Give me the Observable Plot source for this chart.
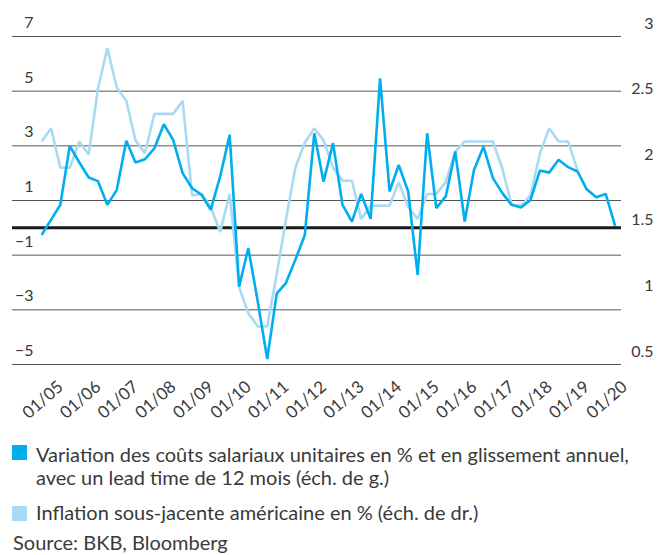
<!DOCTYPE html>
<html>
<head>
<meta charset="utf-8">
<script src="https://cdn.jsdelivr.net/npm/d3@7"></script>
<script src="https://cdn.jsdelivr.net/npm/@observablehq/plot@0.6"></script>
<style>
  body { margin: 0; background: #fff; }
  #wrap { position: relative; width: 668px; height: 555px; overflow: hidden; background: #fff;
          font-family: Lato, "Open Sans", sans-serif; font-weight: 400; color: #3a3a3a; }
  #chart { position: absolute; left: 0; top: 0; }
  .sw { position: absolute; left: 12px; width: 15px; height: 15px; }
  .lt { position: absolute; font-size: 20px; line-height: 23px; white-space: nowrap; }
</style>
</head>
<body>
<div id="wrap">
  <div id="chart"></div>
  <div class="sw" style="top:445px;background:#00aeef"></div>
  <div class="lt" style="left:36px;top:442.8px">Variation des coûts salariaux unitaires en % et en glissement annuel,<br>avec un lead time de 12 mois (éch. de g.)</div>
  <div class="sw" style="top:506px;background:#a9daf3"></div>
  <div class="lt" style="left:36px;top:500.8px">Inflation sous-jacente américaine en % (éch. de dr.)</div>
  <div class="lt" style="left:13px;top:531px">Source: BKB, Bloomberg</div>
</div>
<script>
// Quarterly observations, first quarter = Q4 2004 (plotted at mid-quarter)
const firstYear = 2004, firstMonth = 10;

// Unit labour cost change, % y/y, 12-month lead (left scale)
const ulc = [
  -0.26, 0.3, 0.84, 3.0, 2.4, 1.84, 1.71, 0.84, 1.39, 3.19,
  2.39, 2.51, 2.91, 3.79, 3.22, 2.0, 1.45, 1.21, 0.66, 1.88,
  3.4, -2.15, -0.74, -2.7, -4.8, -2.41, -2.02, -1.17, -0.26, 3.46,
  1.69, 3.1, 0.84, 0.23, 1.24, 0.33, 5.47, 1.33, 2.3, 1.33,
  -1.72, 3.46, 0.72, 1.15, 2.79, 0.23, 2.12, 2.97, 1.82, 1.27,
  0.84, 0.74, 1.02, 2.1, 2.02, 2.49, 2.22, 2.06, 1.41, 1.12,
  1.24, 0.07
];

// US core inflation, % (right scale)
const coreInflation = [
  2.2, 2.3, 2.0, 2.0, 2.2, 2.1, 2.6, 2.91, 2.61, 2.51,
  2.21, 2.11, 2.41, 2.41, 2.41, 2.51, 1.79, 1.8, 1.7, 1.51,
  1.8, 1.09, 0.89, 0.79, 0.79, 1.19, 1.6, 2.0, 2.19, 2.3,
  2.21, 2.0, 1.9, 1.9, 1.61, 1.71, 1.71, 1.71, 1.89, 1.7,
  1.61, 1.8, 1.8, 1.89, 2.12, 2.2, 2.2, 2.2, 2.2, 1.99,
  1.72, 1.71, 1.79, 2.11, 2.3, 2.2, 2.2, 1.98
];

const xLabels = ["01/05","01/06","01/07","01/08","01/09","01/10","01/11","01/12",
                 "01/13","01/14","01/15","01/16","01/17","01/18","01/19","01/20"];
const leftTicks = [7, 5, 3, 1, -1, -3, -5];
const rightTicks = [3, 2.5, 2, 1.5, 1, 0.5];
const leftDomain = [-5, 7];
const rightDomain = [0.5, 3];

const qDate = i => new Date(Date.UTC(firstYear, firstMonth + 3 * i, 15));
const toLeft = r => leftDomain[0] + (r - rightDomain[0]) * (leftDomain[1] - leftDomain[0]) / (rightDomain[1] - rightDomain[0]);

const ulcData = ulc.map((v, i) => ({date: qDate(i), v}));
const inflData = coreInflation.map((v, i) => ({date: qDate(i), v: toLeft(v)}));
const labelData = xLabels.map(s => ({date: new Date(Date.UTC(2000 + +s.slice(3), 0, 1)), label: s}));

const fmtLeft = d => d < 0 ? "\u2212" + Math.abs(d) : String(d);
const font = 'Lato, "Open Sans", sans-serif';

const chart = Plot.plot({
  width: 668,
  height: 430,
  marginTop: 36,
  marginBottom: 66,
  marginLeft: 12,
  marginRight: 47,
  x: {type: "utc", domain: [new Date(Date.UTC(2005,0,1)), new Date(Date.UTC(2020,0,1))], range: [46, 610], axis: null},
  y: {domain: leftDomain, axis: null},
  style: {fontFamily: font, fontWeight: 400, color: "#3a3a3a", background: "#fff", overflow: "visible"},
  marks: [
    Plot.ruleY(leftTicks, {stroke: "#555", strokeWidth: 1}),
    Plot.ruleY([0], {stroke: "#1a1a1a", strokeWidth: 3}),
    Plot.line(inflData, {x: "date", y: "v", stroke: "#a9daf3", strokeWidth: 2.6, strokeLinejoin: "miter", strokeLinecap: "butt"}),
    Plot.line(ulcData, {x: "date", y: "v", stroke: "#00aeef", strokeWidth: 2.6, strokeLinejoin: "miter", strokeLinecap: "butt"}),
    Plot.text(leftTicks, {y: d => d, text: fmtLeft, frameAnchor: "left", textAnchor: "end", dx: 21, dy: -13.5, fontSize: 16, fill: "#3a3a3a"}),
    Plot.text(rightTicks, {y: d => toLeft(d), text: d => String(d), frameAnchor: "right", textAnchor: "end", dx: 32, dy: -13, fontSize: 16, fill: "#3a3a3a"}),
    Plot.text(labelData, {x: "date", text: "label", frameAnchor: "bottom", rotate: -41, textAnchor: "middle", dy: 39.5, fontSize: 17, fill: "#3a3a3a"})
  ]
});
document.getElementById("chart").appendChild(chart);
</script>
</body>
</html>
